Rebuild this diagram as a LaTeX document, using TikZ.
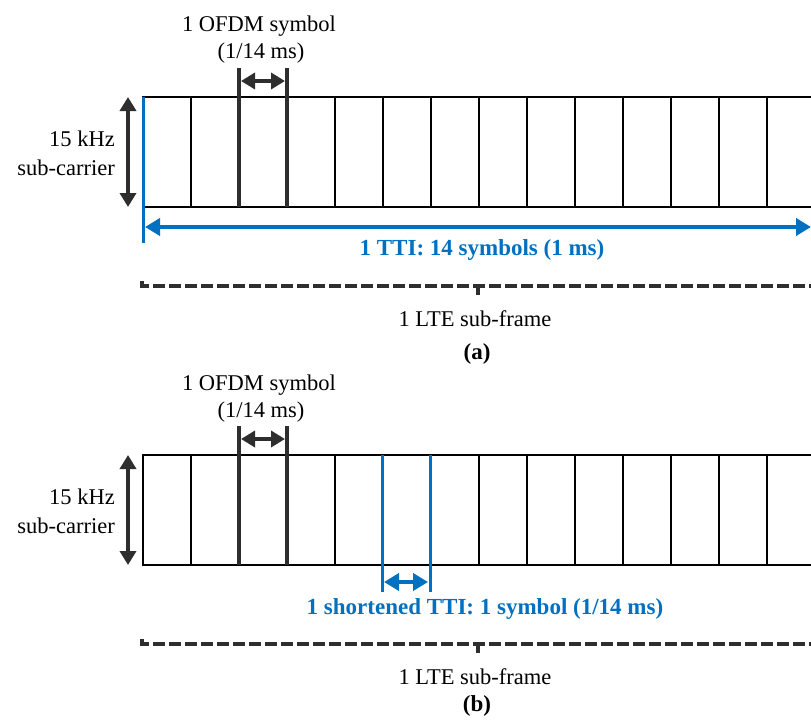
\documentclass[tikz,border=0pt]{standalone}
\usepackage{fontspec}
\setmainfont{Liberation Serif}
\usetikzlibrary{arrows.meta}
\definecolor{ttiblue}{HTML}{0070C0}
\definecolor{darkline}{HTML}{2E2E2E}

\begin{document}
\begin{tikzpicture}[x=1pt,y=-1pt,
    every node/.style={inner sep=0pt, font=\fontsize{22.5}{26}\selectfont},
    boldtext/.style={font=\fontsize{23}{26}\selectfont\bfseries},
    grid/.style={black, line width=1.5pt},
    symline/.style={darkline, line width=3.4pt},
    ttiline/.style={ttiblue, line width=3pt},
    dimarrow/.style={darkline, line width=4.5pt,
        {Triangle[length=14pt,width=16pt]}-{Triangle[length=14pt,width=16pt]}},
    ttiarrow/.style={ttiblue, line width=4.5pt,
        {Triangle[length=15pt,width=17pt]}-{Triangle[length=15pt,width=17pt]}},
    framebrace/.style={darkline, line width=3.5pt, dash pattern=on 12pt off 4pt}]

    \clip (0,0) rectangle (811,725);

    \foreach \d/\p/\t in {0/a/359, 358/b/711}{
        % one sub-frame: 14 OFDM symbols
        \coordinate (nw\p) at (143,97+\d);
        \coordinate (se\p) at (815,207+\d);
        \draw[grid] (nw\p) rectangle (se\p);
        \foreach \i in {1,...,13}{
            \draw[grid] (143+48*\i,97+\d) -- (143+48*\i,207+\d);
        }

        % one OFDM symbol
        \coordinate (s1top\p) at (239,68+\d);
        \coordinate (s1bot\p) at (239,207+\d);
        \coordinate (s2top\p) at (287,68+\d);
        \coordinate (s2bot\p) at (287,207+\d);
        \draw[symline] (s1top\p) -- (s1bot\p);
        \draw[symline] (s2top\p) -- (s2bot\p);
        \coordinate (sl\p) at (241,81+\d);
        \coordinate (sr\p) at (285,81+\d);
        \draw[dimarrow] (sl\p) -- (sr\p);
        \node[anchor=base] (ofdm\p) at (259,32+\d) {1 OFDM symbol};
        \node[anchor=base] (ofdmdur\p) at (261,59+\d) {(1/14 ms)};

        % sub-carrier spacing
        \coordinate (bwtop\p) at (128,97+\d);
        \coordinate (bwbot\p) at (128,207+\d);
        \draw[dimarrow] (bwtop\p) -- (bwbot\p);
        \node[anchor=base east] (khz\p) at (115,146+\d) {15 kHz};
        \node[anchor=base east] (subc\p) at (115,175+\d) {sub-carrier};

        % LTE sub-frame
        \coordinate (bl\p) at (142,281+\d);
        \coordinate (bc\p) at (142,286+\d);
        \coordinate (br\p) at (815,286+\d);
        \coordinate (bm\p) at (478,286+\d);
        \coordinate (bmt\p) at (478,295+\d);
        \draw[framebrace] (bl\p) -- (bc\p) -- (br\p);
        \draw[darkline, line width=3.5pt] (bm\p) -- (bmt\p);
        \node[anchor=base] (lte\p) at (475,326+\d) {1 LTE sub-frame};
        \node[anchor=base, boldtext] (tag\p) at (477,\t) {(\p)};
    }

    % (a) 1 TTI = whole sub-frame
    \coordinate (ttitop) at (143,97);
    \coordinate (ttibot) at (143,243);
    \coordinate (ttil) at (145,227);
    \coordinate (ttir) at (811,227);
    \draw[ttiline] (ttitop) -- (ttibot);
    \draw[ttiarrow] (ttil) -- (ttir);
    \node[anchor=base, boldtext, ttiblue] (tti) at (482,255) {1 TTI: 14 symbols (1 ms)};

    % (b) shortened TTI = one symbol
    \coordinate (stl) at (382,455);
    \coordinate (stlb) at (382,592);
    \coordinate (str) at (430,455);
    \coordinate (strb) at (430,592);
    \draw[ttiline] (stl) -- (stlb);
    \draw[ttiline] (str) -- (strb);
    \coordinate (sal) at (384,582);
    \coordinate (sar) at (428,582);
    \draw[ttiarrow] (sal) -- (sar);
    \node[anchor=base, boldtext, ttiblue] (stti) at (485,614) {1 shortened TTI: 1 symbol (1/14 ms)};
\end{tikzpicture}
\end{document}
